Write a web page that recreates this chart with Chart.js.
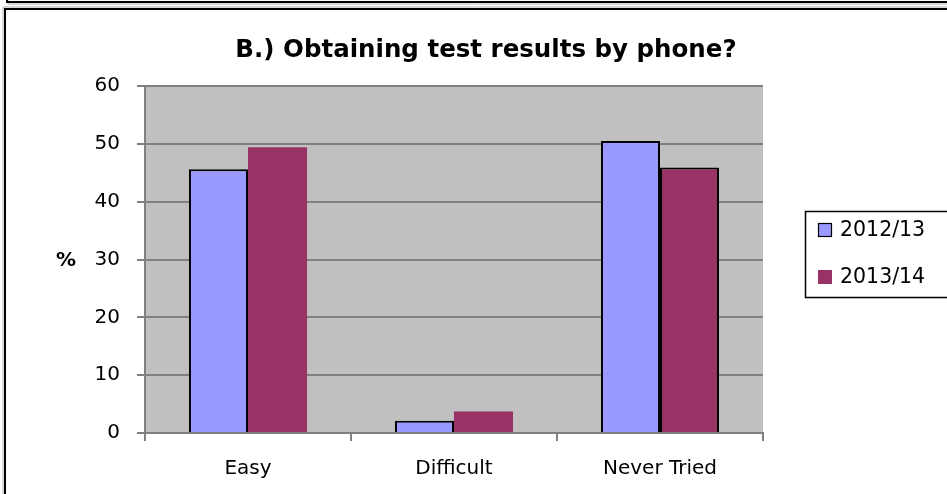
<!DOCTYPE html>
<html>
<head>
<meta charset="utf-8">
<script src="https://cdn.jsdelivr.net/npm/chart.js@4"></script>
<style>
html,body{margin:0;padding:0;background:#fff;}
#wrap{width:947px;height:494px;position:relative;}
</style>
</head>
<body>
<div id="wrap"><canvas id="c" width="947" height="494"></canvas></div>
<script>
const titleText = 'B.) Obtaining test results by phone?';
const yAxisLabel = '%';
const categories = ['Easy', 'Difficult', 'Never Tried'];
const seriesNames = ['2012/13', '2013/14'];
const values2012 = [45.6, 2.1, 50.5];
const values2013 = [49.4, 3.7, 45.9];
const yTicks = [0, 10, 20, 30, 40, 50, 60];

const colors = ['#9999FF', '#993366'];
const FONT = '"DejaVu Sans", "Open Sans", sans-serif';

const decor = {
  id: 'decor',
  beforeDraw(chart) {
    const ctx = chart.ctx;
    ctx.save();
    ctx.fillStyle = '#fff';
    ctx.fillRect(0, 0, chart.width, chart.height);
    // previous frame bottom edge
    ctx.strokeStyle = '#b0b0b0';
    ctx.lineWidth = 1;
    ctx.beginPath(); ctx.moveTo(8, 0); ctx.lineTo(8, 4); ctx.lineTo(947, 4); ctx.stroke();
    ctx.strokeStyle = '#000';
    ctx.lineWidth = 2;
    ctx.beginPath(); ctx.moveTo(7, 0); ctx.lineTo(7, 2); ctx.lineTo(947, 2); ctx.stroke();
    // main frame
    ctx.strokeStyle = '#b0b0b0';
    ctx.lineWidth = 1;
    ctx.beginPath(); ctx.moveTo(3, 500); ctx.lineTo(3, 7); ctx.lineTo(947, 7); ctx.stroke();
    ctx.strokeStyle = '#000';
    ctx.lineWidth = 2;
    ctx.beginPath(); ctx.moveTo(5, 500); ctx.lineTo(5, 9); ctx.lineTo(947, 9); ctx.stroke();
    // plot background
    const a = chart.chartArea;
    ctx.fillStyle = '#C0C0C0';
    ctx.fillRect(a.left, a.top, a.right - a.left, a.bottom - a.top);
    ctx.restore();
  },
  afterDraw(chart) {
    const ctx = chart.ctx;
    ctx.save();
    // title
    ctx.fillStyle = '#000';
    ctx.font = 'bold 24.5px "DejaVu Sans", sans-serif';
    ctx.textAlign = 'center';
    ctx.textBaseline = 'middle';
    ctx.fillText(titleText, 486, 51);
    // y axis label
    ctx.font = 'bold 20px ' + FONT;
    ctx.fillText(yAxisLabel, 66, 261);
    // legend
    ctx.strokeStyle = '#000';
    ctx.lineWidth = 1.5;
    ctx.strokeRect(805.5, 211.5, 160, 86);
    const ys = [230, 277];
    ctx.font = '20.5px ' + FONT;
    ctx.textAlign = 'left';
    chart.data.datasets.forEach((ds, i) => {
      ctx.fillStyle = ds.backgroundColor;
      ctx.fillRect(818, ys[i] - 7, 14, 14);
      if (i === 0) {
        ctx.strokeStyle = '#000';
        ctx.lineWidth = 1.2;
        ctx.strokeRect(818.5, ys[i] - 6.5, 13, 13);
      }
      ctx.fillStyle = '#000';
      ctx.fillText(ds.label, 840, ys[i] + 1);
    });
    ctx.restore();
  }
};

new Chart(document.getElementById('c'), {
  type: 'bar',
  data: {
    labels: categories,
    datasets: [
      { label: seriesNames[0], data: values2012, backgroundColor: colors[0], borderColor: '#000', borderWidth: 2 },
      { label: seriesNames[1], data: values2013, backgroundColor: colors[1], borderColor: '#000', borderWidth: [0, 0, 2] }
    ]
  },
  options: {
    responsive: false,
    animation: false,
    devicePixelRatio: 1,
    layout: { padding: { top: 86, right: 184, bottom: 0, left: 0 } },
    categoryPercentage: 0.573,
    barPercentage: 1.0,
    plugins: {
      legend: { display: false },
      title: { display: false },
      tooltip: { enabled: false }
    },
    scales: {
      x: {
        offset: true,
        afterFit(s) { s.height = 61; },
        grid: { display: true, drawOnChartArea: false, drawTicks: true, tickLength: 8, color: '#808080', lineWidth: 2 },
        border: { display: true, color: '#808080', width: 2 },
        ticks: { color: '#000', font: { family: FONT, size: 20 }, padding: 16 }
      },
      y: {
        min: 0, max: 60,
        afterFit(s) { s.width = 145; },
        afterBuildTicks(s) { s.ticks = yTicks.map(v => ({ value: v })); },
        grid: { color: '#808080', lineWidth: 2, tickLength: 8, drawTicks: true },
        border: { display: true, color: '#808080', width: 2 },
        ticks: { color: '#000', font: { family: FONT, size: 20 }, padding: 17 }
      }
    }
  },
  plugins: [decor]
});
</script>
</body>
</html>
